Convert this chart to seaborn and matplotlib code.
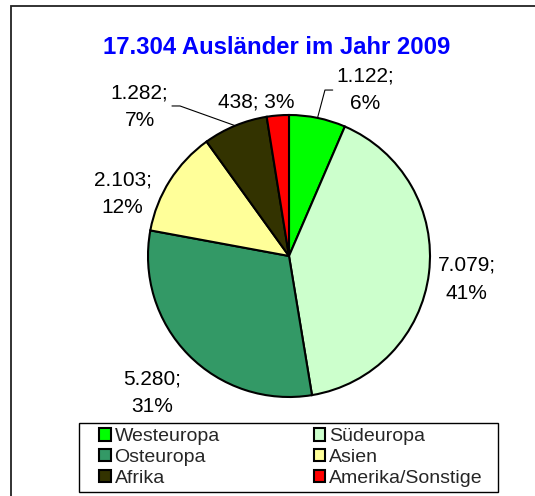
import matplotlib
matplotlib.use("Agg")
import numpy as np
import matplotlib.pyplot as plt
import seaborn as sns
from matplotlib.patches import Rectangle

# data
regions = ['Westeuropa', 'Südeuropa', 'Osteuropa', 'Asien', 'Afrika', 'Amerika/Sonstige']
counts = [1122, 7079, 5280, 2103, 1282, 438]
count_labels = ['1.122', '7.079', '5.280', '2.103', '1.282', '438']
percent_labels = ['6%', '41%', '31%', '12%', '7%', '3%']
colors = ['#00FF00', '#CCFFCC', '#339966', '#FFFF99', '#333300', '#FF0000']

sns.set_style('white')
plt.rcParams['font.family'] = ['Liberation Sans', 'DejaVu Sans']

W, H = 535, 496
fig = plt.figure(figsize=(W / 100, H / 100), dpi=100)

# pie centre at (289, 256) px, radius 141 px
r_px = 141
lim = 1.5
ax = fig.add_axes([(289 - lim * r_px) / W, (H - 256 - lim * r_px) / H,
                   2 * lim * r_px / W, 2 * lim * r_px / H])
wedges, _ = ax.pie(counts, colors=sns.color_palette(colors), startangle=90,
                   counterclock=False,
                   wedgeprops=dict(edgecolor='black', linewidth=1.5))
ax.set_xlim(-lim, lim)
ax.set_ylim(-lim, lim)
ax.axis('off')

# label positions (data units, pie radius = 1)
label_pos = {
    'Westeuropa': (0.54, 1.18),
    'Südeuropa': (1.26, -0.165),
    'Osteuropa': (-0.97, -0.97),
    'Asien': (-1.18, 0.44),
    'Afrika': (-1.06, 1.06),
    'Amerika/Sonstige': (-0.23, 1.09),
}
single_line = {'Amerika/Sonstige'}
# leader lines: horizontal stub (x0, x1, y) then to wedge edge
leader = {'Westeuropa': (0.31, 0.255, 1.177), 'Afrika': (-0.83, -0.773, 1.064)}

for w, reg, c, p in zip(wedges, regions, count_labels, percent_labels):
    sep = ' ' if reg in single_line else '\n'
    tx, ty = label_pos[reg]
    ax.text(tx, ty, f'{c};{sep}{p}', ha='center', va='center',
            fontsize=15, linespacing=1.6, color='black')
    if reg in leader:
        ang = np.deg2rad((w.theta1 + w.theta2) / 2)
        ex, ey = np.cos(ang), np.sin(ang)
        x0, x1, ly = leader[reg]
        ax.plot([x0, x1, ex], [ly, ly, ey], color='black', lw=0.8)

fig.text(277 / W, 1 - 47 / H, '17.304 Ausländer im Jahr 2009', ha='center',
         va='center', fontsize=17.2, fontweight='bold', color='#0000FF')

# outer frame
fig.patches.append(Rectangle((11 / W, -0.1), 1.2, 1 - 6 / H + 0.1,
                             transform=fig.transFigure, fill=False,
                             edgecolor='#222222', linewidth=1.3))

# legend box
fig.patches.append(Rectangle((79 / W, 1 - 492 / H), 419 / W, 69 / H,
                             transform=fig.transFigure, fill=False,
                             edgecolor='black', linewidth=1.0))

# row-major order like the original legend
order = [0, 2, 4, 1, 3, 5]
leg = fig.legend([wedges[i] for i in order], [regions[i] for i in order],
                 ncol=2, loc='center',
                 bbox_to_anchor=(99 / W, 1 - 492 / H, 384 / W, 69 / H),
                 mode='expand', fontsize=14, frameon=False,
                 borderpad=0, labelspacing=0.18,
                 handlelength=0.6, handleheight=0.6, handletextpad=0.2,
                 borderaxespad=0)
for h in leg.legend_handles:
    h.set_linewidth(1.5)
    h.set_edgecolor('black')

fig.savefig('out.png', dpi=100)
